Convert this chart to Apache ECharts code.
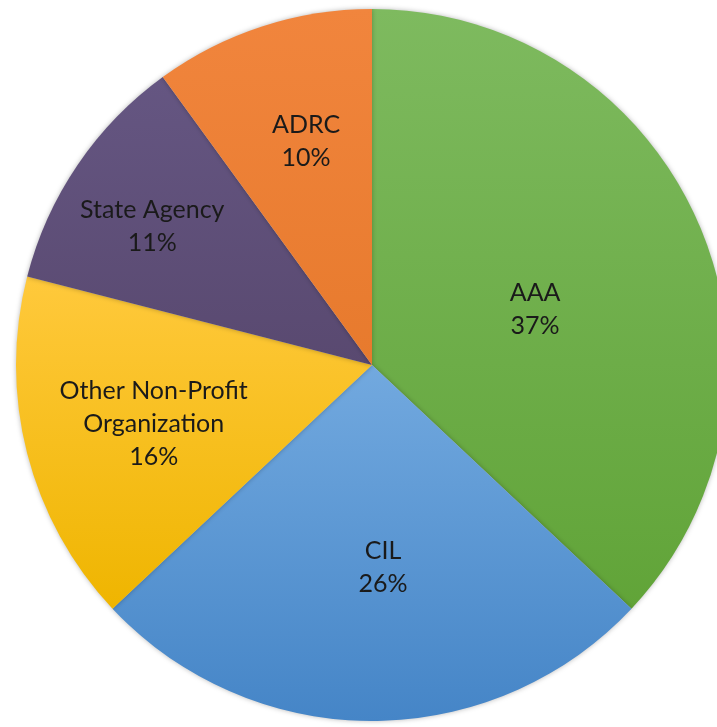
<!DOCTYPE html>
<html>
<head>
<meta charset="utf-8">
<script src="https://cdn.jsdelivr.net/npm/echarts@6/dist/echarts.min.js"></script>
<style>
  html, body { margin: 0; padding: 0; background: #ffffff; }
  #chart { width: 717px; height: 727px; }
</style>
</head>
<body>
<div id="chart"></div>
<script>
// Share of organisations by type (percent)
const categories = ['AAA', 'CIL', 'Other Non-Profit\nOrganization', 'State Agency', 'ADRC'];
const shares = [37, 26, 16, 11, 10];

// Fill colours per slice: [top, bottom] of a vertical gradient
const sliceColors = [
  ['#7EBA5F', '#61A438'],
  ['#72A9DF', '#4585C7'],
  ['#FFC93C', '#EFB500'],
  ['#655682', '#594970'],
  ['#F1853D', '#E77A2D']
];

// Label nudges (px) away from the mid-radius point of each slice
const labelNudge = [[-3, 16], [11, 21], [-43, 14], [-70, -37], [-10, -51]];

const chart = echarts.init(document.getElementById('chart'), null, { renderer: 'canvas' });

const data = categories.map((name, i) => ({
  name: name,
  value: shares[i],
  itemStyle: {
    color: new echarts.graphic.LinearGradient(0, 0, 0, 1, [
      { offset: 0, color: sliceColors[i][0] },
      { offset: 1, color: sliceColors[i][1] }
    ])
  },
  label: { offset: labelNudge[i] }
}));

chart.setOption({
  animation: false,
  backgroundColor: '#ffffff',
  series: [{
    type: 'pie',
    center: [372, 365],
    radius: [0, 356],
    startAngle: 90,
    clockwise: true,
    avoidLabelOverlap: false,
    itemStyle: {
      borderWidth: 0,
      shadowBlur: 5,
      shadowColor: 'rgba(0,0,0,0.28)'
    },
    label: {
      show: true,
      position: 'inside',
      formatter: p => p.name + '\n' + p.value + '%',
      color: '#1a1a1a',
      fontFamily: 'Lato',
      fontSize: 25,
      lineHeight: 33,
      align: 'center'
    },
    labelLine: { show: false },
    emphasis: { disabled: true },
    data: data
  }]
});
</script>
</body>
</html>
